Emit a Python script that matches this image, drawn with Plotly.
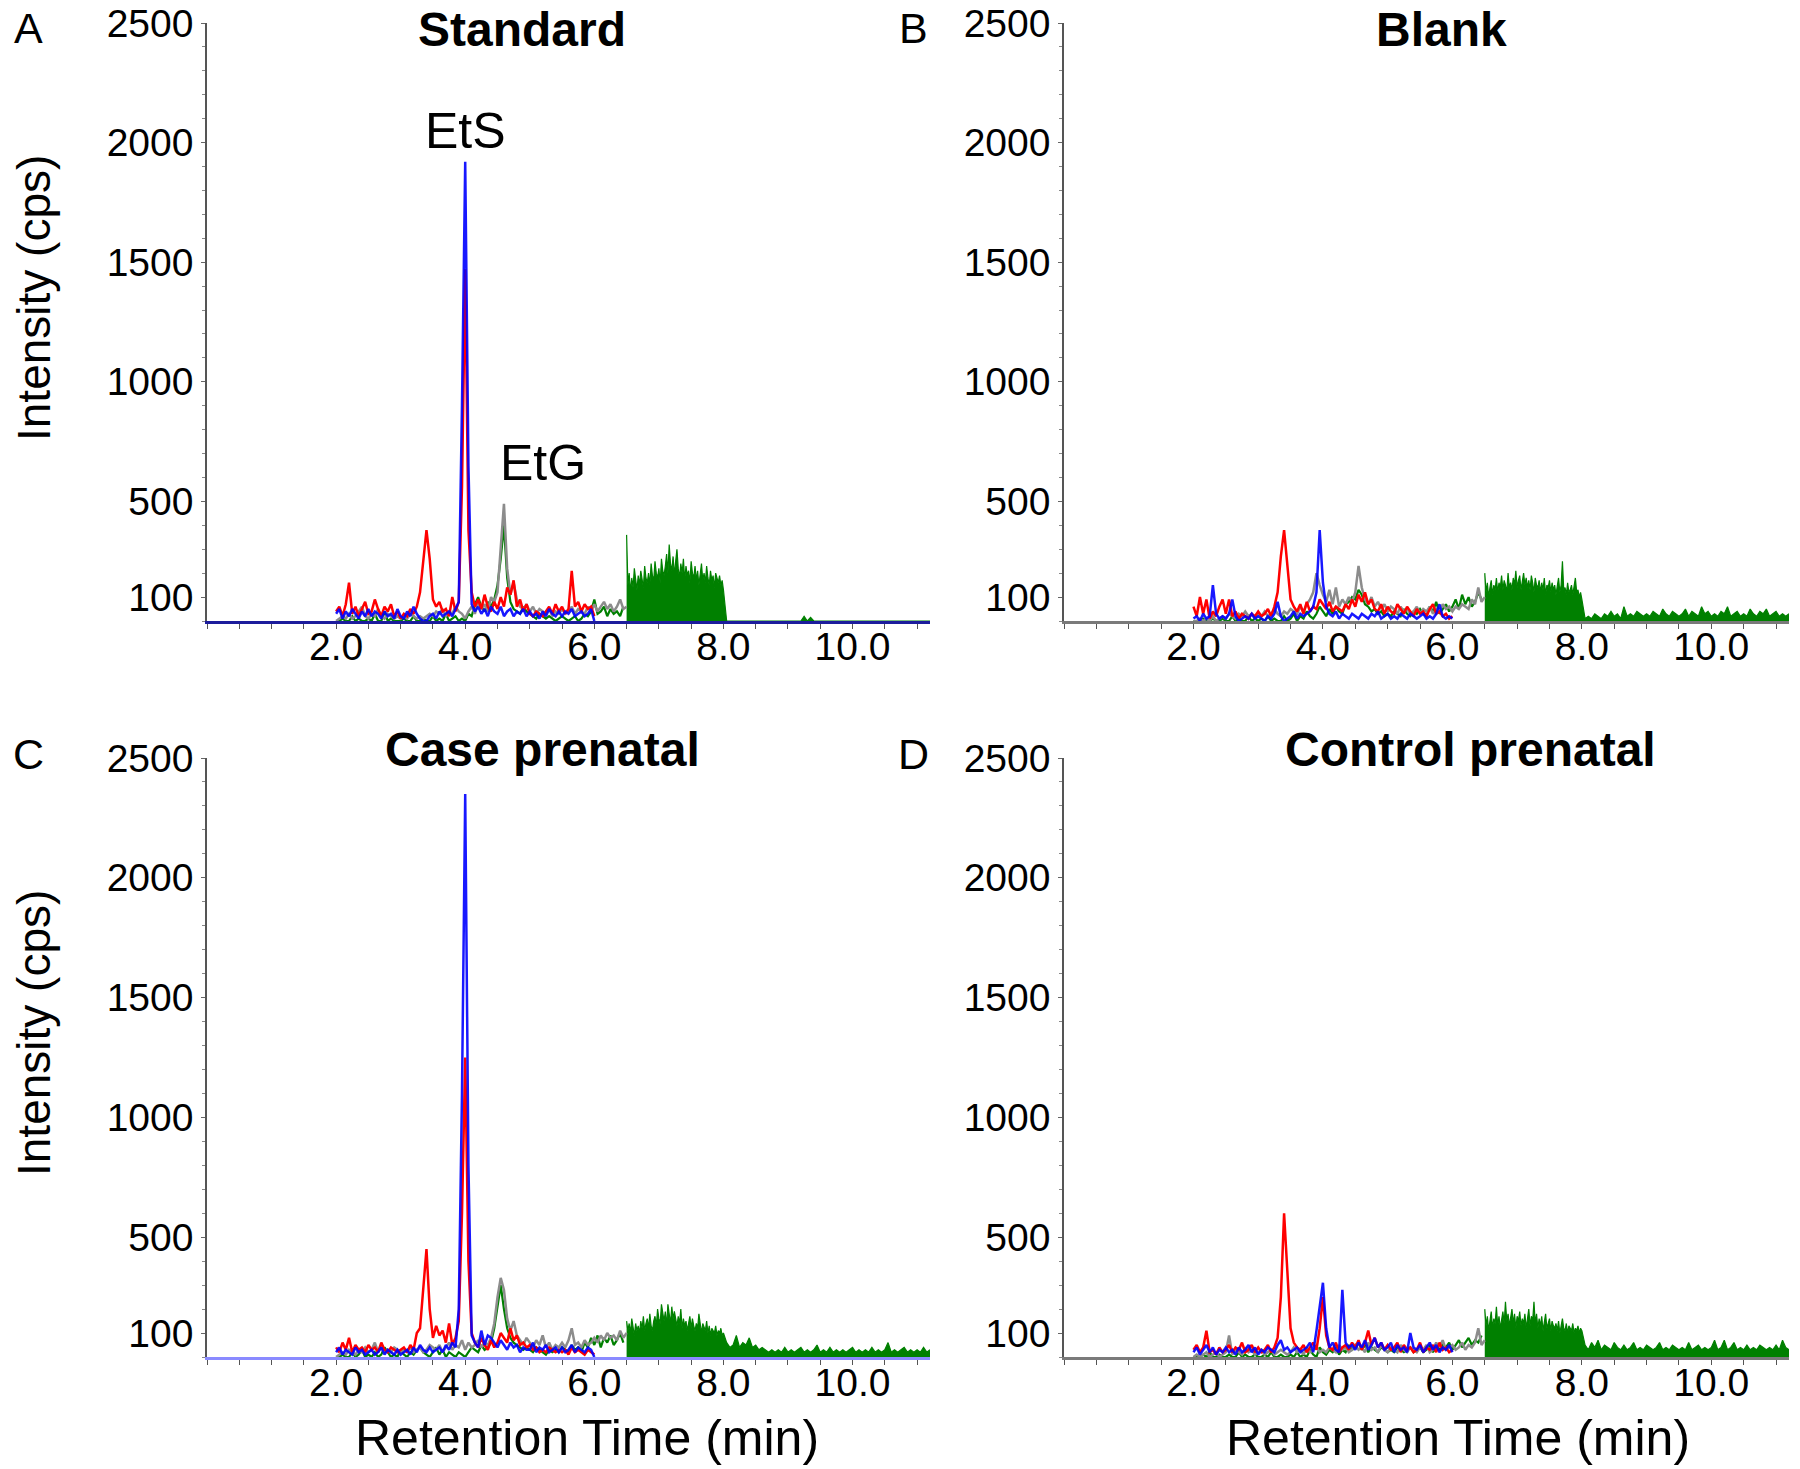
import numpy as np
import plotly.graph_objects as go
from plotly.subplots import make_subplots

W, H = 1800, 1469
OFF = 8  # page margin the browser puts around the figure

# sampling of the traces (min): noise window 2.0-6.0 (6.5 for grey), dense green 6.5-8.0, tail 8.05-11.2
STEP = 0.05
STEP_DENSE = 0.02

# ---------------- A  Standard ----------------
red_A = [40, 60, 20, 70, 160, 30, 60, 20, 50, 80,
         30, 40, 90, 50, 20, 60, 40, 70, 20, 40,
         10, 30, 20, 50, 30, 60, 120, 250, 380, 260,
         90, 60, 80, 40, 50, 20, 100, 40, 80, 560,
         1470, 380, 120, 60, 90, 50, 110, 60, 40, 80,
         50, 100, 60, 140, 110, 170, 60, 90, 40, 70,
         30, 20, 40, 30, 20, 40, 60, 30, 70, 40,
         60, 30, 50, 210, 60, 80, 40, 70, 50, 60,
         20]
blue_A = [30, 50, 10, 40, 20, 50, 30, 10, 40, 20,
          50, 20, 40, 30, 10, 40, 20, 30, 10, 50,
          20, 10, 40, 20, 60, 30, 10, 0, 0, 20,
          30, 10, 40, 20, 30, 40, 20, 50, 80, 900,
          1920, 650, 70, 40, 60, 30, 50, 20, 60, 40,
          30, 60, 20, 40, 50, 20, 40, 30, 50, 20,
          40, 20, 30, 10, 40, 20, 50, 30, 20, 40,
          20, 40, 30, 50, 20, 30, 40, 20, 30, 50,
          0]
gray_A = [0, 10, 20, 10, 30, 10, 20, 40, 60, 20,
          10, 30, 20, 50, 20, 10, 30, 20, 10, 20,
          10, 20, 10, 30, 20, 10, 20, 10, 20, 30,
          20, 40, 30, 50, 20, 40, 30, 60, 40, 30,
          10, 40, 60, 30, 80, 50, 70, 40, 100, 80,
          120, 300, 490, 220, 110, 160, 90, 60, 50, 70,
          40, 60, 30, 50, 40, 30, 50, 20, 40, 30,
          50, 30, 40, 60, 30, 50, 40, 30, 60, 40,
          70, 40, 60, 80, 50, 70, 40, 60, 90, 50, 60]
green_A_low = [0, 0, 10, 0, 0, 20, 0, 10, 0, 0,
               10, 0, 30, 0, 0, 40, 0, 10, 0, 0,
               0, 10, 0, 0, 20, 0, 0, 10, 0, 0,
               20, 0, 10, 0, 30, 0, 10, 20, 0, 10,
               0, 30, 20, 70, 100, 60, 40, 80, 60, 90,
               150, 260, 400, 180, 80, 50, 40, 30, 60, 40,
               30, 20, 10, 30, 20, 10, 20, 10, 0, 10,
               20, 10, 0, 10, 20, 0, 10, 30, 20, 40,
               90, 30, 40, 60, 20, 50, 30, 40, 20, 60]
green_A_dense = [360, 150, 200, 120, 180, 140, 220, 160, 130, 190,
                 150, 210, 170, 140, 230, 180, 160, 200, 150, 240,
                 190, 170, 250, 200, 180, 220, 160, 260, 210, 190,
                 230, 280, 200, 320, 240, 210, 270, 190, 250, 300,
                 220, 180, 240, 200, 260, 170, 230, 190, 210, 160,
                 250, 200, 180, 230, 170, 210, 150, 190, 240, 170,
                 200, 160, 230, 180, 150, 210, 170, 190, 140, 200,
                 180, 160, 190, 150, 170, 130]
green_A_tail = [0, 0, 0, 0, 0, 0, 0, 0, 0, 0,
                0, 0, 0, 0, 0, 0, 0, 0, 0, 0,
                0, 0, 0, 0, 20, 0, 15, 0, 0, 0,
                0, 0, 0, 0, 0, 0, 0, 0, 0, 0,
                0, 0, 0, 0, 0, 0, 0, 0, 0, 0,
                0, 0, 0, 0, 0, 0, 0, 0, 0, 0,
                0, 0, 0, 0]

# ---------------- B  Blank ----------------
red_B = [60, 20, 100, 30, 90, 10, 40, 20, 60, 90,
         30, 90, 20, 40, 10, 30, 20, 10, 30, 20,
         40, 20, 30, 50, 20, 60, 120, 270, 380, 220,
         90, 60, 40, 70, 30, 80, 40, 60, 50, 90,
         70, 50, 80, 40, 60, 50, 40, 70, 50, 90,
         60, 110, 80, 120, 70, 90, 50, 40, 70, 30,
         60, 40, 30, 70, 50, 30, 60, 40, 20, 50,
         30, 40, 20, 50, 70, 30, 40, 20, 30, 10,
         20]
blue_B = [10, 20, 0, 30, 10, 20, 150, 30, 10, 20,
          10, 30, 90, 20, 0, 10, 20, 10, 30, 10,
          20, 10, 0, 20, 10, 30, 80, 20, 0, 10,
          20, 40, 10, 30, 20, 30, 40, 60, 120, 380,
          160, 60, 30, 20, 40, 10, 30, 20, 10, 30,
          20, 10, 30, 20, 10, 30, 20, 40, 10, 20,
          30, 10, 20, 10, 30, 20, 10, 30, 20, 10,
          20, 30, 10, 20, 10, 30, 70, 20, 10, 20,
          10]
gray_B = [0, 0, 10, 0, 10, 0, 20, 0, 10, 20,
          10, 30, 20, 10, 30, 20, 40, 20, 30, 10,
          30, 20, 40, 20, 30, 50, 30, 20, 40, 30,
          50, 40, 30, 60, 40, 70, 90, 120, 200, 150,
          110, 80, 130, 70, 140, 60, 90, 70, 100, 80,
          120, 230, 140, 90, 70, 100, 60, 80, 50, 70,
          40, 60, 50, 30, 60, 40, 50, 30, 40, 60,
          30, 50, 40, 60, 30, 50, 40, 70, 50, 60,
          40, 60, 50, 70, 60, 50, 90, 70, 140, 80, 100]
green_B_low = [0, 0, 0, 10, 0, 0, 10, 0, 0, 10,
               0, 0, 20, 0, 10, 0, 0, 20, 0, 10,
               0, 10, 0, 20, 0, 10, 0, 0, 20, 0,
               10, 30, 0, 20, 10, 40, 20, 10, 30, 60,
               40, 20, 50, 30, 60, 40, 30, 70, 80, 100,
               90, 130, 110, 70, 60, 40, 50, 30, 40, 20,
               30, 20, 40, 30, 20, 50, 30, 20, 40, 30,
               50, 30, 20, 60, 40, 80, 30, 50, 70, 40,
               60, 90, 50, 110, 70, 100, 60, 80, 120, 90]
green_B_dense = [200, 120, 160, 100, 140, 170, 110, 150, 130, 180,
                 120, 160, 140, 190, 130, 170, 150, 120, 200, 140,
                 160, 130, 180, 150, 210, 140, 170, 190, 130, 160,
                 200, 150, 180, 140, 170, 130, 190, 160, 120, 180,
                 150, 140, 170, 120, 160, 130, 180, 110, 150, 140,
                 170, 120, 160, 130, 150, 110, 140, 180, 120, 150,
                 250, 130, 140, 110, 160, 120, 130, 150, 110, 140,
                 180, 120, 130, 100, 120, 90]
green_B_tail = [10, 20, 10, 30, 20, 10, 30, 20, 40, 20,
                30, 10, 60, 20, 30, 20, 40, 30, 20, 30,
                20, 40, 30, 20, 50, 30, 20, 40, 30, 20,
                30, 50, 20, 40, 30, 20, 60, 30, 40, 20,
                30, 20, 40, 30, 60, 20, 30, 40, 20, 30,
                20, 50, 30, 20, 40, 30, 50, 20, 30, 40,
                20, 30, 20, 30]

# ---------------- C  Case prenatal ----------------
red_C = [40, 20, 60, 30, 80, 20, 50, 30, 40, 20,
         50, 30, 40, 20, 60, 30, 20, 40, 30, 20,
         30, 40, 20, 50, 30, 100, 120, 280, 450, 200,
         80, 130, 90, 110, 60, 140, 50, 80, 150, 600,
         1250, 400, 100, 60, 40, 80, 50, 30, 70, 40,
         60, 100, 80, 60, 120, 70, 90, 50, 60, 40,
         50, 30, 40, 20, 30, 20, 40, 30, 20, 30,
         20, 30, 10, 40, 20, 30, 20, 10, 30, 20,
         10]
blue_C = [20, 40, 10, 30, 20, 10, 40, 20, 30, 10,
          20, 30, 10, 20, 40, 10, 30, 20, 10, 30,
          10, 20, 30, 10, 40, 20, 50, 30, 20, 40,
          20, 30, 40, 20, 50, 30, 60, 40, 200, 1100,
          2350, 800, 90, 60, 40, 110, 50, 90, 80, 60,
          40, 70, 50, 30, 60, 40, 50, 20, 40, 30,
          30, 60, 20, 40, 30, 50, 20, 30, 40, 20,
          40, 20, 30, 50, 20, 40, 30, 20, 40, 30,
          0]
gray_C = [0, 10, 20, 10, 30, 20, 10, 30, 20, 40,
          20, 30, 60, 20, 40, 20, 30, 20, 40, 30,
          20, 30, 20, 40, 20, 30, 40, 20, 30, 50,
          40, 30, 50, 20, 40, 60, 30, 50, 40, 70,
          30, 60, 40, 50, 70, 40, 60, 50, 80, 140,
          250, 330, 280, 160, 110, 150, 90, 70, 50, 80,
          60, 40, 70, 50, 90, 40, 60, 30, 50, 40,
          60, 40, 70, 120, 50, 60, 40, 70, 50, 60,
          80, 60, 90, 70, 100, 80, 90, 70, 110, 80, 100]
green_C_low = [0, 0, 10, 0, 0, 20, 0, 10, 30, 0,
               10, 0, 20, 0, 10, 40, 20, 0, 10, 0,
               30, 10, 0, 20, 10, 30, 40, 20, 10, 0,
               20, 40, 10, 30, 0, 20, 10, 0, 20, 10,
               0, 20, 40, 30, 20, 50, 30, 40, 60, 120,
               220, 300, 200, 120, 80, 60, 50, 40, 30, 40,
               30, 20, 40, 30, 20, 10, 30, 20, 30, 20,
               40, 30, 20, 50, 30, 40, 20, 60, 40, 80,
               50, 90, 40, 80, 60, 90, 50, 70, 100, 60]
green_C_dense = [150, 110, 140, 100, 160, 120, 90, 140, 110, 130,
                 100, 150, 120, 170, 110, 140, 160, 120, 180, 130,
                 110, 150, 170, 130, 200, 160, 140, 220, 180, 150,
                 190, 130, 220, 170, 140, 210, 160, 190, 150, 130,
                 170, 140, 200, 120, 160, 130, 150, 110, 140, 170,
                 120, 160, 130, 110, 140, 120, 180, 130, 100, 140,
                 120, 110, 150, 100, 130, 90, 120, 110, 100, 130,
                 90, 110, 100, 120, 90, 100]
green_C_tail = [60, 40, 50, 90, 40, 60, 50, 80, 40, 50,
                30, 40, 30, 20, 30, 20, 30, 20, 40, 20,
                30, 20, 30, 40, 20, 30, 20, 30, 50, 20,
                30, 20, 40, 20, 30, 20, 30, 20, 30, 40,
                20, 30, 20, 30, 20, 40, 20, 30, 20, 30,
                60, 20, 30, 20, 30, 40, 20, 30, 20, 30,
                20, 40, 20, 30]

# ---------------- D  Control prenatal ----------------
red_D = [30, 50, 20, 40, 110, 20, 30, 10, 40, 20,
         30, 50, 20, 40, 30, 60, 20, 30, 50, 20,
         40, 20, 30, 50, 20, 40, 80, 250, 600, 330,
         120, 60, 40, 30, 50, 20, 40, 60, 30, 120,
         250, 90, 40, 30, 60, 20, 40, 50, 30, 60,
         40, 70, 30, 60, 110, 50, 80, 40, 60, 30,
         50, 30, 40, 60, 20, 50, 30, 40, 20, 30,
         60, 20, 40, 30, 50, 20, 60, 30, 40, 20,
         30]
blue_D = [20, 40, 10, 30, 50, 20, 40, 10, 30, 20,
          40, 20, 30, 10, 40, 20, 30, 50, 20, 40,
          10, 30, 20, 40, 30, 20, 50, 70, 30, 40,
          20, 30, 40, 20, 30, 40, 60, 20, 110, 200,
          310, 120, 40, 60, 30, 20, 280, 60, 40, 50,
          30, 60, 40, 70, 30, 50, 80, 40, 60, 30,
          40, 60, 20, 50, 30, 40, 20, 100, 40, 30,
          50, 20, 40, 60, 30, 50, 20, 40, 30, 50,
          20]
gray_D = [0, 10, 0, 10, 20, 0, 10, 20, 0, 10,
          20, 90, 10, 30, 20, 10, 40, 20, 30, 10,
          20, 30, 10, 20, 30, 10, 20, 30, 20, 10,
          20, 40, 20, 30, 10, 40, 20, 30, 40, 20,
          30, 20, 40, 30, 20, 50, 30, 40, 20, 30,
          50, 30, 40, 20, 60, 30, 40, 20, 50, 30,
          20, 40, 30, 20, 50, 30, 20, 40, 30, 20,
          40, 30, 50, 20, 30, 60, 40, 70, 30, 40,
          50, 30, 40, 60, 30, 50, 40, 60, 120, 50, 70]
green_D_low = [0, 0, 0, 10, 0, 20, 0, 0, 10, 0,
               0, 10, 0, 0, 20, 0, 10, 0, 0, 10,
               0, 0, 10, 0, 20, 0, 0, 10, 0, 0,
               10, 0, 20, 0, 10, 0, 30, 10, 0, 40,
               20, 10, 30, 20, 40, 10, 30, 20, 50, 30,
               40, 60, 30, 50, 20, 40, 30, 20, 40, 30,
               20, 30, 20, 40, 30, 20, 30, 40, 20, 30,
               40, 20, 30, 50, 20, 40, 30, 50, 40, 60,
               30, 50, 70, 40, 60, 80, 50, 70, 60, 90]
green_D_dense = [200, 130, 170, 110, 150, 190, 120, 160, 140, 210,
                 130, 170, 120, 160, 190, 140, 230, 150, 180, 130,
                 160, 200, 140, 180, 120, 170, 150, 190, 130, 160,
                 140, 180, 120, 160, 200, 130, 170, 150, 230, 140,
                 180, 120, 160, 130, 170, 110, 150, 180, 120, 140,
                 160, 110, 150, 130, 120, 140, 110, 150, 100, 130,
                 160, 120, 110, 140, 100, 130, 120, 110, 140, 100,
                 120, 110, 130, 100, 120, 110]
green_D_tail = [50, 30, 60, 40, 70, 30, 50, 40, 30, 60,
                40, 30, 50, 30, 40, 60, 30, 40, 30, 50,
                40, 30, 40, 60, 30, 40, 30, 50, 40, 30,
                40, 30, 60, 30, 40, 50, 30, 40, 30, 40,
                70, 30, 40, 70, 30, 40, 60, 30, 40, 30,
                50, 30, 40, 30, 50, 40, 30, 40, 30, 50,
                30, 70, 40, 30]

titles = ["Standard", "Blank", "Case prenatal", "Control prenatal"]
letters = ["A", "B", "C", "D"]
x_ticks = [2, 4, 6, 8, 10]
x_ticktext = ["2.0", "4.0", "6.0", "8.0", "10.0"]
y_ticks = [100, 500, 1000, 1500, 2000, 2500]

panels = [
    (red_A, blue_A, gray_A, green_A_low, green_A_dense, green_A_tail),
    (red_B, blue_B, gray_B, green_B_low, green_B_dense, green_B_tail),
    (red_C, blue_C, gray_C, green_C_low, green_C_dense, green_C_tail),
    (red_D, blue_D, gray_D, green_D_low, green_D_dense, green_D_tail),
]

RED, BLUE, GRAY, GREEN = "#ff0000", "#0000ff", "#8c8c8c", "#008000"
FONT = "Liberation Sans, Arial, Helvetica, sans-serif"


def times(start, step, vals):
    return np.round(start + step * np.arange(len(vals)), 3)


def px_x(px):
    return (px - OFF) / W


def px_y(py):
    return 1 - (py - OFF) / H


fig = make_subplots(rows=2, cols=2)

for k, (red, blue, gray, g_low, g_dense, g_tail) in enumerate(panels):
    r, c = k // 2 + 1, k % 2 + 1
    fig.add_trace(go.Scatter(x=times(2.0, STEP, g_low), y=g_low, mode="lines",
                             line=dict(color=GREEN, width=2.2)), r, c)
    gx = np.concatenate([times(6.5, STEP_DENSE, g_dense), times(8.05, STEP, g_tail)])
    fig.add_trace(go.Scatter(x=gx, y=g_dense + g_tail, mode="lines", fill="tozeroy",
                             fillcolor=GREEN, line=dict(color=GREEN, width=1.2)), r, c)
    fig.add_trace(go.Scatter(x=times(2.0, STEP, gray), y=gray, mode="lines",
                             line=dict(color=GRAY, width=2.5)), r, c)
    fig.add_trace(go.Scatter(x=times(2.0, STEP, red), y=red, mode="lines",
                             line=dict(color=RED, width=2.5)), r, c)
    fig.add_trace(go.Scatter(x=times(2.0, STEP, blue), y=blue, mode="lines",
                             line=dict(color=BLUE, width=2.5), opacity=0.9), r, c)

col_dom = {1: [px_x(207), px_x(930)], 2: [px_x(1064), px_x(1789)]}
row_dom = {1: [px_y(621), px_y(23)], 2: [px_y(1357), px_y(758)]}
base_col = {1: "#1c1c9c", 2: "#7a7a7a", 3: "#8a8aff", 4: "#7a7a7a"}

for k in range(4):
    r, c = k // 2 + 1, k % 2 + 1
    fig.update_xaxes(row=r, col=c, domain=col_dom[c], range=[0, 11.2], automargin=False,
                     tickvals=x_ticks, ticktext=x_ticktext, ticklabeloverflow="allow",
                     ticks="outside", ticklen=5, tickcolor="#555", ticklabelstandoff=-16,
                     minor=dict(dtick=0.5, tick0=0, ticks="outside", ticklen=5, tickcolor="#555"),
                     showline=True, linecolor=base_col[k + 1], linewidth=2.5,
                     showgrid=False, zeroline=False,
                     tickfont=dict(family=FONT, size=39, color="black"))
    fig.update_yaxes(row=r, col=c, domain=row_dom[r], range=[0, 2500], automargin=False,
                     tickvals=y_ticks, ticks="outside", ticklen=4, tickcolor="#666",
                     ticklabeloverflow="allow",
                     minor=dict(dtick=100, tick0=0, ticks="outside", ticklen=3, tickcolor="#888"),
                     showline=True, linecolor="#555", linewidth=1.5,
                     showgrid=False, zeroline=False, ticklabelstandoff=0,
                     tickfont=dict(family=FONT, size=39, color="black"))

annotations = []


def paper_text(text, px, py, size, bold=False, angle=0):
    annotations.append(dict(text=f"<b>{text}</b>" if bold else text, x=px_x(px), y=px_y(py),
                            xref="paper", yref="paper", xanchor="center", yanchor="middle",
                            showarrow=False, textangle=angle,
                            font=dict(family=FONT, size=size, color="black")))


for t, (px, py) in zip(titles, [(522, 30), (1441, 30), (542, 749), (1470, 749)]):
    paper_text(t, px, py, 48, bold=True)
for t, (px, py) in zip(letters, [(28, 28), (913, 28), (28, 754), (913, 754)]):
    paper_text(t, px, py, 43)
for py in (298, 1033):
    paper_text("Intensity (cps)", 34, py, 46, angle=-90)
for px in (587, 1458):
    paper_text("Retention Time (min)", px, 1438, 50)

# peak labels in panel A
annotations.append(dict(text="EtS", x=4.0, y=2050, xref="x", yref="y", showarrow=False,
                        font=dict(family=FONT, size=50, color="black")))
annotations.append(dict(text="EtG", x=5.2, y=660, xref="x", yref="y", showarrow=False,
                        font=dict(family=FONT, size=50, color="black")))

fig.update_layout(width=W, height=H, margin=dict(l=0, r=0, t=0, b=0),
                  plot_bgcolor="white", paper_bgcolor="white", showlegend=False,
                  annotations=annotations)

fig.write_html("out.html")
